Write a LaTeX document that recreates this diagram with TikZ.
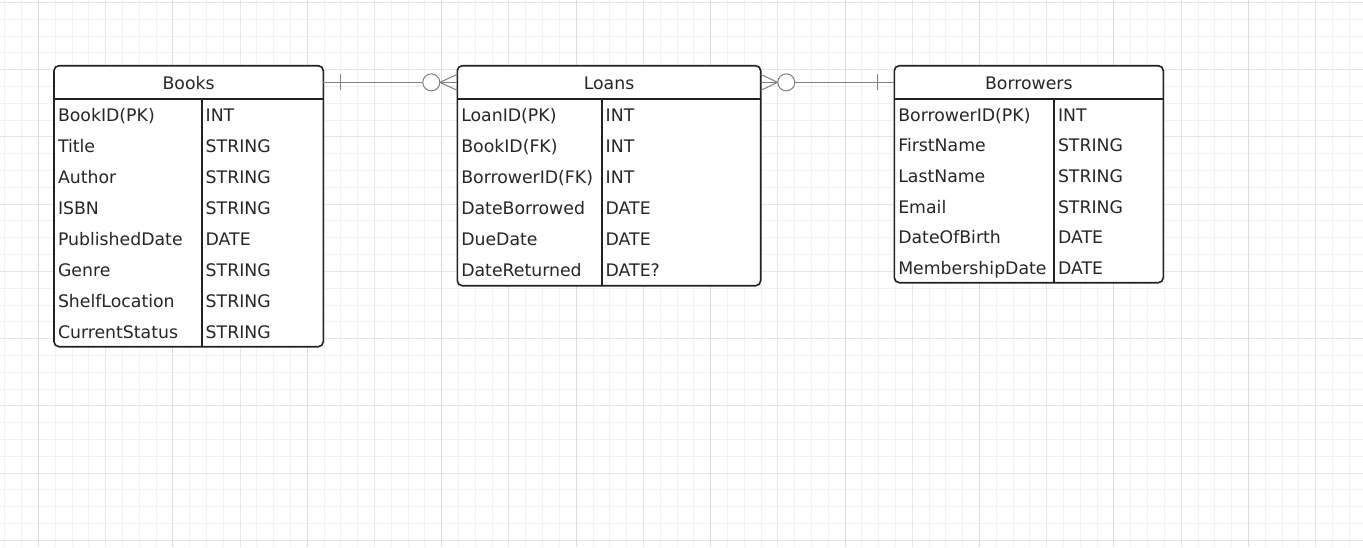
\documentclass[tikz,border=0pt]{standalone}
\usepackage{fontspec}
\setmainfont{DejaVu Sans}
\usetikzlibrary{positioning}

\definecolor{gridminor}{RGB}{242,242,242}
\definecolor{gridmid}{RGB}{230,230,230}
\definecolor{gridmajor}{RGB}{220,220,220}
\definecolor{boxline}{RGB}{34,34,34}
\definecolor{txt}{RGB}{38,38,38}
\definecolor{relline}{RGB}{128,128,128}
\newcommand{\fieldfont}{\fontsize{17.3pt}{20pt}\selectfont}

\begin{document}
\begin{tikzpicture}[x=1pt, y=-1pt, node distance=31pt]
        \tikzstyle{table} = [draw=boxline, fill=white, line width=1.6pt, rounded corners=5pt, inner sep=0pt, outer sep=0pt, anchor=north west]
        \tikzstyle{title} = [inner sep=0pt, outer sep=0pt, minimum height=33.3pt, text height=14pt, text depth=0pt, text=txt, font=\fieldfont, anchor=north]
        \tikzstyle{field} = [inner xsep=4pt, inner ysep=0pt, outer sep=0pt, minimum height=31pt, text height=14pt, text depth=0pt, align=left, text=txt, font=\fieldfont]
        \tikzstyle{bookcol} = [field, text width=139.7pt]
        \tikzstyle{booktype} = [field, text width=113.6pt]
        \tikzstyle{loancol} = [field, text width=136.4pt]
        \tikzstyle{loantype} = [field, text width=151pt]
        \tikzstyle{borrcol} = [field, text width=151.7pt]
        \tikzstyle{borrtype} = [field, text width=101.3pt]
        \tikzstyle{rule} = [draw=boxline, line width=1.6pt]
        \tikzstyle{rel} = [draw=relline, line width=1pt]
        \tikzstyle{minorline} = [draw=gridminor, line width=1pt]
        \tikzstyle{midline} = [draw=gridmid, line width=1pt]
        \tikzstyle{majorline} = [draw=gridmajor, line width=1pt]

        % Background grid
        \fill[white] (0,0) rectangle (1363,547);
        \useasboundingbox (0,0) rectangle (1363,547);
        \foreach \k in {-2,...,79} \draw[minorline] ({38.4+16.806*\k},0) -- ({38.4+16.806*\k},547);
        \foreach \k in {0,...,32} \draw[minorline] (0,{2.5+16.806*\k}) -- (1363,{2.5+16.806*\k});
        \foreach \k in {0,...,19} \draw[midline] ({38.4+67.22*\k},0) -- ({38.4+67.22*\k},547);
        \foreach \k in {0,...,8} \draw[midline] (0,{2.5+67.22*\k}) -- (1363,{2.5+67.22*\k});
        \foreach \k in {0,...,9} \draw[majorline] ({38.4+134.44*\k},0) -- ({38.4+134.44*\k},547);

        % Books
        \node [table, minimum width=269.3pt, minimum height=281pt] (books) at (54,65.7) {};
        \node [title, minimum width=269.3pt] (bookshead) at (books.north) {Books};
        \node [bookcol, anchor=north west] (b1) at (bookshead.south west) {BookID(PK)};
        \node [bookcol, below of=b1] (b2) {Title};
        \node [bookcol, below of=b2] (b3) {Author};
        \node [bookcol, below of=b3] (b4) {ISBN};
        \node [bookcol, below of=b4] (b5) {PublishedDate};
        \node [bookcol, below of=b5] (b6) {Genre};
        \node [bookcol, below of=b6] (b7) {ShelfLocation};
        \node [bookcol, below of=b7] (b8) {CurrentStatus};
        \node [booktype, right=0pt of b1] (bt1) {INT};
        \node [booktype, below of=bt1] (bt2) {STRING};
        \node [booktype, below of=bt2] (bt3) {STRING};
        \node [booktype, below of=bt3] (bt4) {STRING};
        \node [booktype, below of=bt4] (bt5) {DATE};
        \node [booktype, below of=bt5] (bt6) {STRING};
        \node [booktype, below of=bt6] (bt7) {STRING};
        \node [booktype, below of=bt7] (bt8) {STRING};
        \draw [rule] (bookshead.south west) -- (bookshead.south east);
        \draw [rule] (b1.north east) -- (b1.north east |- books.south);

        % Loans
        \node [table, minimum width=303.4pt, minimum height=220pt] (loans) at (457.3,65.7) {};
        \node [title, minimum width=303.4pt] (loanshead) at (loans.north) {Loans};
        \node [loancol, anchor=north west] (l1) at (loanshead.south west) {LoanID(PK)};
        \node [loancol, below of=l1] (l2) {BookID(FK)};
        \node [loancol, below of=l2] (l3) {BorrowerID(FK)};
        \node [loancol, below of=l3] (l4) {DateBorrowed};
        \node [loancol, below of=l4] (l5) {DueDate};
        \node [loancol, below of=l5] (l6) {DateReturned};
        \node [loantype, right=0pt of l1] (lt1) {INT};
        \node [loantype, below of=lt1] (lt2) {INT};
        \node [loantype, below of=lt2] (lt3) {INT};
        \node [loantype, below of=lt3] (lt4) {DATE};
        \node [loantype, below of=lt4] (lt5) {DATE};
        \node [loantype, below of=lt5] (lt6) {DATE?};
        \draw [rule] (loanshead.south west) -- (loanshead.south east);
        \draw [rule] (l1.north east) -- (l1.north east |- loans.south);

        % Borrowers
        \node [table, minimum width=269pt, minimum height=217pt] (borrowers) at (894.3,65.7) {};
        \node [title, minimum width=269pt] (borrhead) at (borrowers.north) {Borrowers};
        \begin{scope}[node distance=30.6pt]
        \node [borrcol, anchor=north west, minimum height=30.6pt] (r1) at (borrhead.south west) {BorrowerID(PK)};
        \node [borrcol, below of=r1] (r2) {FirstName};
        \node [borrcol, below of=r2] (r3) {LastName};
        \node [borrcol, below of=r3] (r4) {Email};
        \node [borrcol, below of=r4] (r5) {DateOfBirth};
        \node [borrcol, below of=r5] (r6) {MembershipDate};
        \node [borrtype, right=0pt of r1, minimum height=30.6pt] (rt1) {INT};
        \node [borrtype, below of=rt1] (rt2) {STRING};
        \node [borrtype, below of=rt2] (rt3) {STRING};
        \node [borrtype, below of=rt3] (rt4) {STRING};
        \node [borrtype, below of=rt4] (rt5) {DATE};
        \node [borrtype, below of=rt5] (rt6) {DATE};
        \end{scope}
        \draw [rule] (borrhead.south west) -- (borrhead.south east);
        \draw [rule] (r1.north east) -- (r1.north east |- borrowers.south);

        % Books one -- many Loans
        \path [rel] (bookshead.east) -- (loanshead.west);
        \path [rel] ([xshift=17.5pt, yshift=8pt]bookshead.east) -- ([xshift=17.5pt, yshift=-8pt]bookshead.east);
        \path [rel] ([xshift=-17.5pt]loanshead.west) -- ([yshift=8pt]loanshead.west);
        \path [rel] ([xshift=-17.5pt]loanshead.west) -- ([yshift=-8pt]loanshead.west);
        \path [rel, fill=white] ([xshift=-26pt]loanshead.west) circle (8.5);

        % Loans many -- one Borrowers
        \path [rel] (loanshead.east) -- (borrhead.west);
        \path [rel] ([xshift=17pt]loanshead.east) -- ([yshift=8pt]loanshead.east);
        \path [rel] ([xshift=17pt]loanshead.east) -- ([yshift=-8pt]loanshead.east);
        \path [rel, fill=white] ([xshift=25.6pt]loanshead.east) circle (8.5);
        \path [rel] ([xshift=-17pt, yshift=8pt]borrhead.west) -- ([xshift=-17pt, yshift=-8pt]borrhead.west);
    \end{tikzpicture}
\end{document}
